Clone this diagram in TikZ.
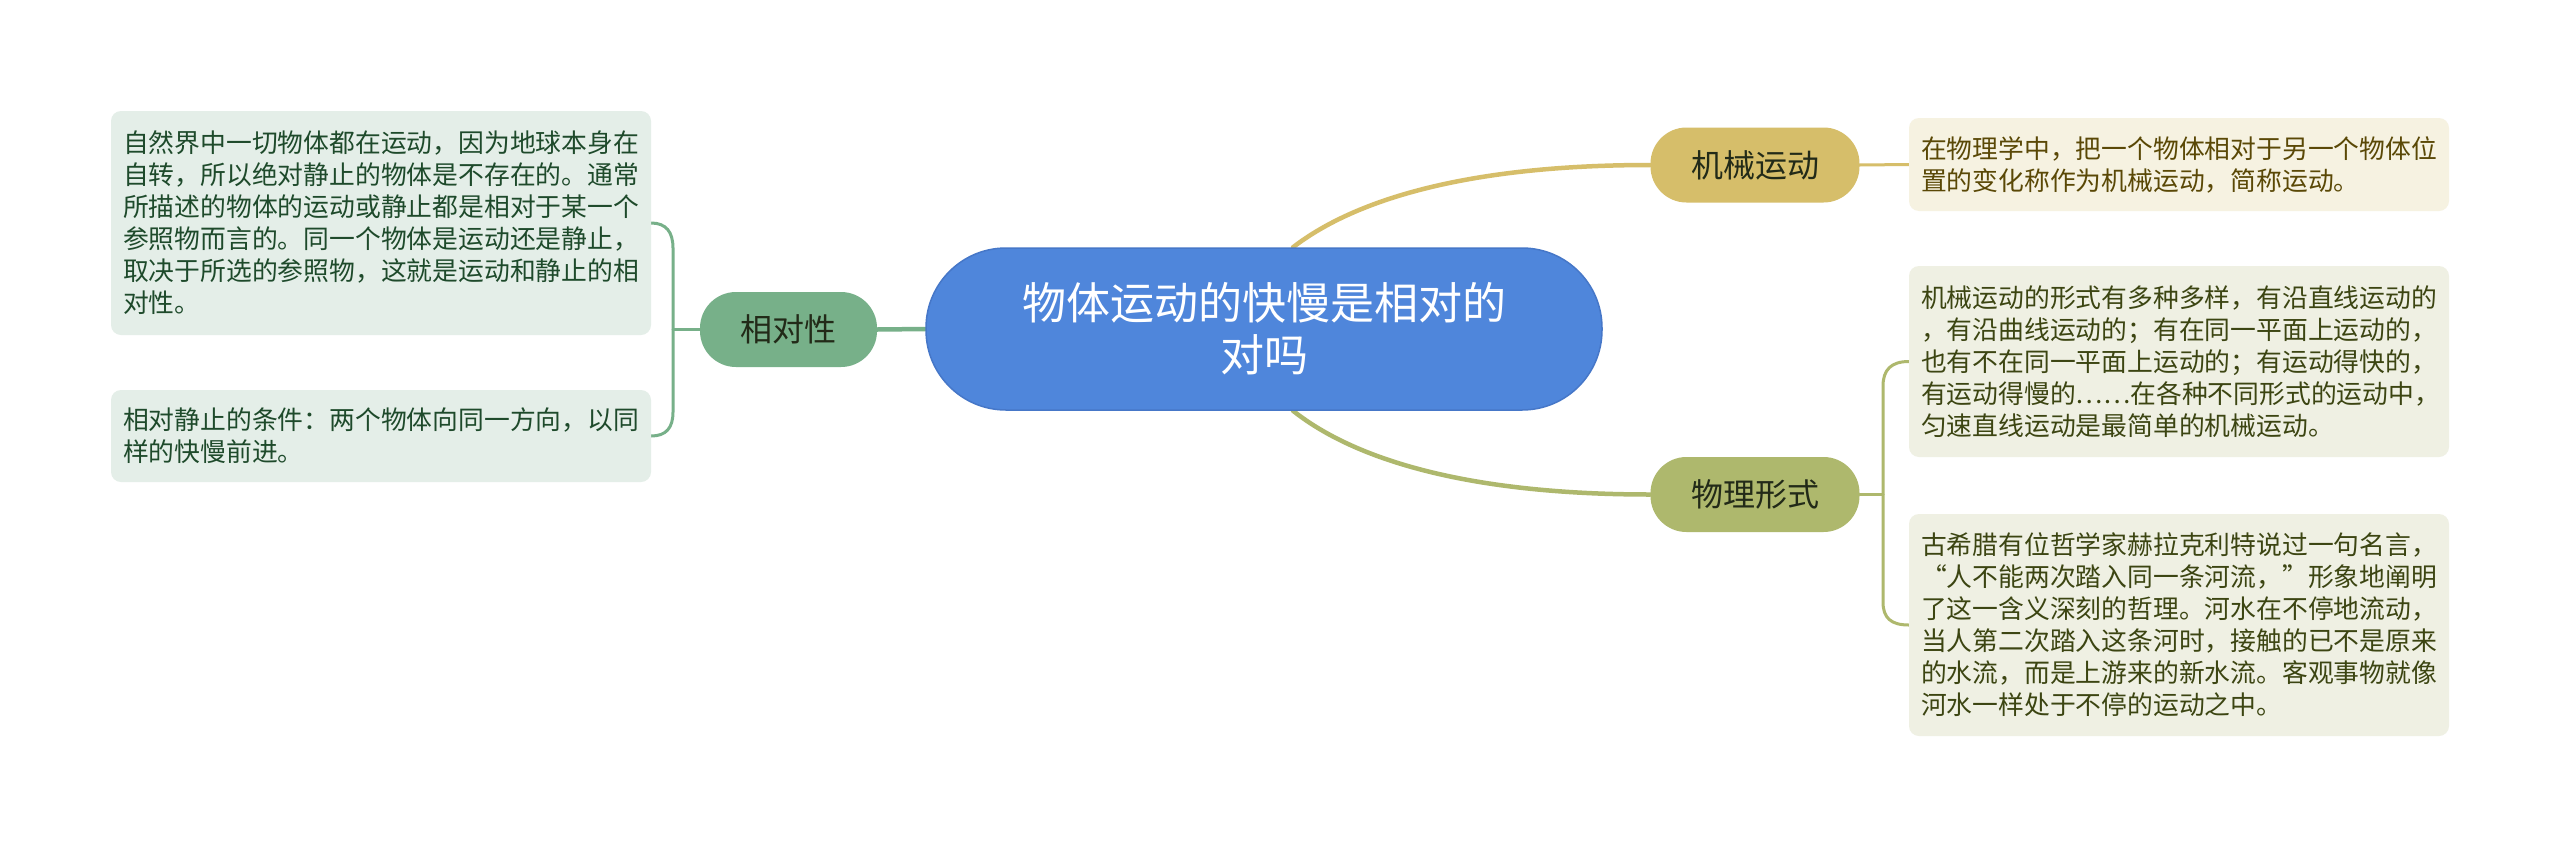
\documentclass[tikz,border=0pt]{standalone}
\usepackage{fontspec}
\setmainfont{Noto Sans CJK SC}
\definecolor{cblue}{HTML}{4F86DB}
\definecolor{cblueline}{HTML}{4677C8}
\definecolor{ggreen}{HTML}{77B089}
\definecolor{ggold}{HTML}{D6BE6A}
\definecolor{golive}{HTML}{AEB86D}
\definecolor{lgreen}{HTML}{E4EEE8}
\definecolor{lcream}{HTML}{F6F2E1}
\definecolor{lolive}{HTML}{EFF0E3}
\definecolor{tgreen}{HTML}{1E4A2B}
\definecolor{tbrown}{HTML}{5A4806}
\definecolor{tolive}{HTML}{3C4512}
\definecolor{tdark}{HTML}{222A18}
\pgfdeclarelayer{back}
\pgfdeclarelayer{bg}
\pgfsetlayers{back,bg,main}
\tikzset{
  central/.style={fill=cblue, draw=cblueline, line width=1.5pt, rounded corners=80pt,
    minimum width=676pt, minimum height=162pt, inner sep=0pt, align=center,
    text=white, font=\fontsize{44}{52}\selectfont},
  branch/.style={rounded corners=36pt, minimum height=75pt, inner sep=0pt,
    text=tdark, font=\fontsize{32}{38}\selectfont},
  leaf/.style={rounded corners=10pt, inner xsep=12pt, inner ysep=0pt, text width=516pt,
    align=left, font=\fontsize{25.8}{32}\selectfont},
  link/.style={line width=4.5pt, line cap=round},
  sublink/.style={line width=3pt, line cap=round},
}
\begin{document}
\begin{tikzpicture}[x=1pt,y=-1pt]
\begin{pgfonlayer}{back}
\fill[white] (0,0) rectangle (2560,849);
\end{pgfonlayer}
\useasboundingbox (0,0) rectangle (2560,849);

% central
\node[central] (c) at (1264,329) {物体运动的快慢是相对的\\对吗};

% branches
\node[branch, fill=ggreen, minimum width=177pt] (xd) at (788.5,329.5) {相对性};
\node[branch, fill=ggold, minimum width=209pt] (jx) at (1755,165) {机械运动};
\node[branch, fill=golive, minimum width=209pt] (wl) at (1755,494.5) {物理形式};

% leaves
\node[leaf, fill=lgreen, text=tgreen, minimum height=224pt] (l1) at (381,223) {自然界中一切物体都在运动，因为地球本身在\\自转，所以绝对静止的物体是不存在的。通常\\所描述的物体的运动或静止都是相对于某一个\\参照物而言的。同一个物体是运动还是静止，\\取决于所选的参照物，这就是运动和静止的相\\对性。};
\node[leaf, fill=lgreen, text=tgreen, minimum height=92pt] (l2) at (381,436) {相对静止的条件：两个物体向同一方向，以同\\样的快慢前进。};
\node[leaf, fill=lcream, text=tbrown, minimum height=93pt] (r1) at (2179,164.5) {在物理学中，把一个物体相对于另一个物体位\\置的变化称作为机械运动，简称运动。};
\node[leaf, fill=lolive, text=tolive, minimum height=191pt] (r2) at (2179,361.5) {机械运动的形式有多种多样，有沿直线运动的\\，有沿曲线运动的；有在同一平面上运动的，\\也有不在同一平面上运动的；有运动得快的，\\有运动得慢的……在各种不同形式的运动中，\\匀速直线运动是最简单的机械运动。};
\node[leaf, fill=lolive, text=tolive, minimum height=222pt] (r3) at (2179,625) {古希腊有位哲学家赫拉克利特说过一句名言，\\“人不能两次踏入同一条河流，”形象地阐明\\了这一含义深刻的哲理。河水在不停地流动，\\当人第二次踏入这条河时，接触的已不是原来\\的水流，而是上游来的新水流。客观事物就像\\河水一样处于不停的运动之中。};

\coordinate (lj) at (673,329.5);
\coordinate (rj) at (1883,494.5);

\begin{pgfonlayer}{bg}
  % central to branches
  \draw[link, draw=ggreen] (c.west) -- (xd.east);
  \draw[link, draw=ggold] ([xshift=29pt]c.north) .. controls (1335,215) and (1430,165) .. (jx.west);
  \draw[link, draw=golive] ([xshift=29pt]c.south) .. controls (1335,444) and (1430,494.5) .. (wl.west);
  % left bracket
  \draw[sublink, draw=ggreen] (xd.west) -- (lj);
  \draw[sublink, draw=ggreen] (l1.east) .. controls (666,223) and (673,232) .. (673,248)
      -- (673,412) .. controls (673,428) and (666,436) .. (l2.east);
  % right
  \draw[sublink, draw=ggold] (jx.east) -- (r1.west);
  \draw[sublink, draw=golive] (wl.east) -- (rj);
  \draw[sublink, draw=golive] (r2.west) .. controls (1891,361.5) and (1883,370) .. (1883,386)
      -- (1883,602) .. controls (1883,618) and (1891,625) .. (r3.west);
\end{pgfonlayer}
\end{tikzpicture}
\end{document}
